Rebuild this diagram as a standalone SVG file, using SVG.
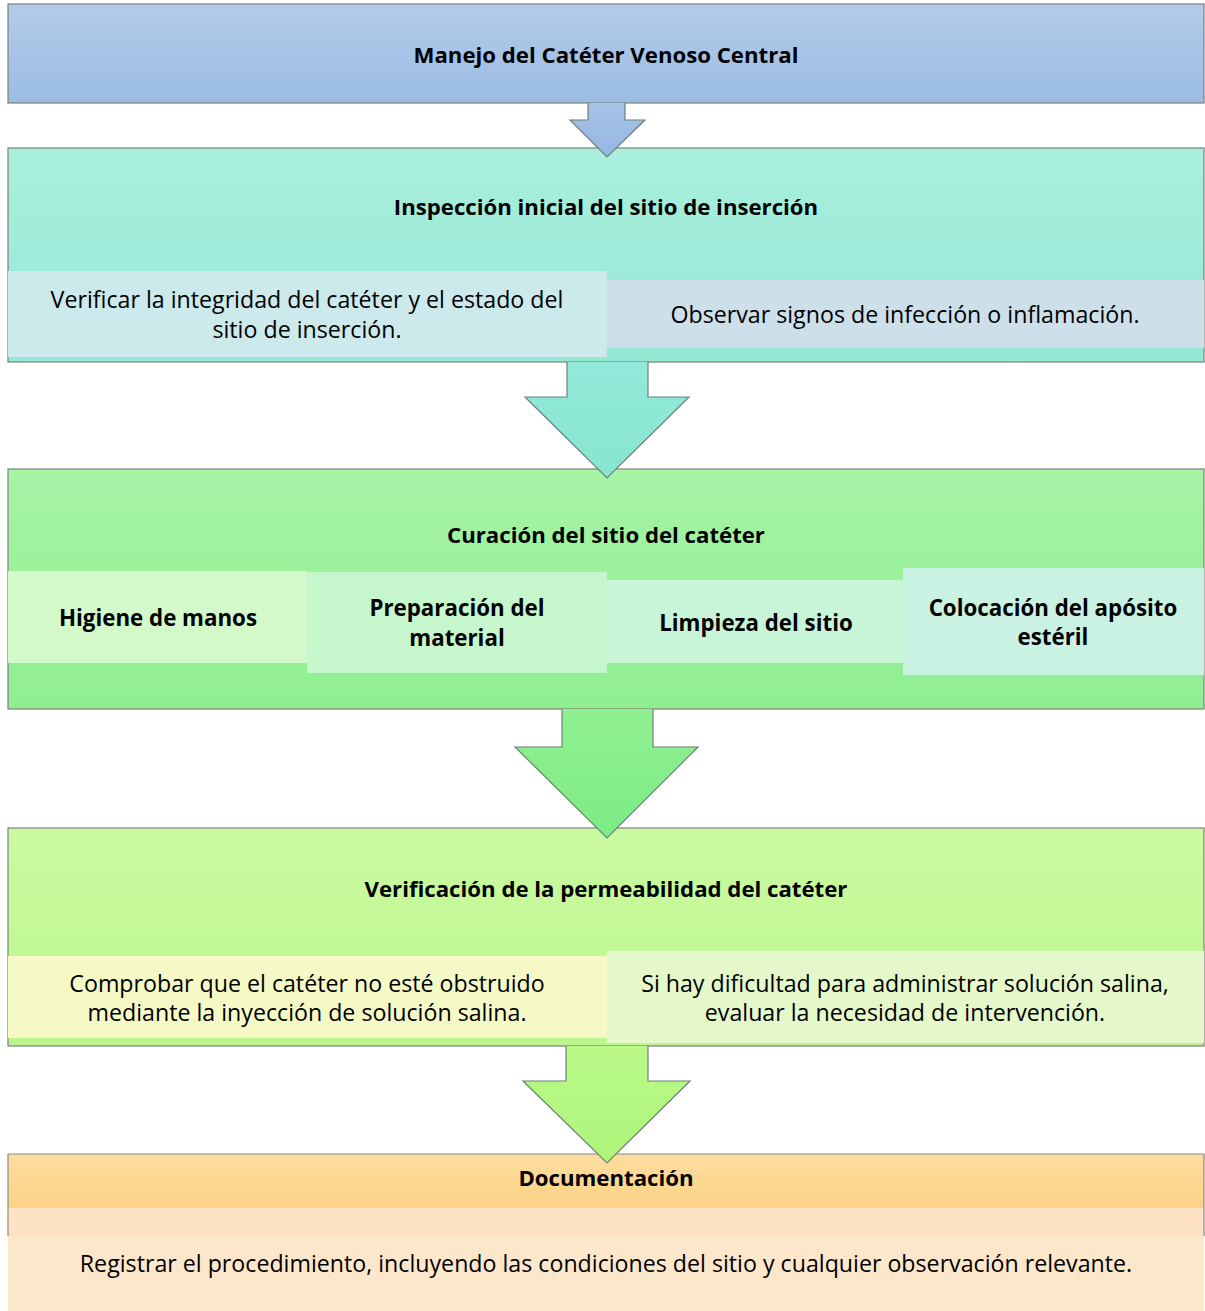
<svg xmlns="http://www.w3.org/2000/svg" width="1205" height="1311" viewBox="0 0 1205 1311">
<style>
  .box { stroke: #7f7f7f; stroke-width: 1.2; }
  .sub { stroke: none; }
  .arrow { stroke: #6f7f7a; stroke-width: 1.2; stroke-linejoin: miter; }
  text { font-family: "Open Sans", "Noto Sans", "DejaVu Sans", sans-serif; fill: #000; text-anchor: middle; dominant-baseline: central; }
  .t { font-size: 22.2px; font-weight: 700; }
  .b { font-size: 22.3px; font-weight: 700; }
  .r { font-size: 23.2px; }
</style>
<defs>
  <linearGradient id="g1" x1="0" y1="0" x2="0" y2="1"><stop offset="0" stop-color="#b2cce9"/><stop offset="1" stop-color="#9cbce3"/></linearGradient>
  <linearGradient id="g2" x1="0" y1="0" x2="0" y2="1"><stop offset="0" stop-color="#aaefdd"/><stop offset="1" stop-color="#93e8d4"/></linearGradient>
  <linearGradient id="g3" x1="0" y1="0" x2="0" y2="1"><stop offset="0" stop-color="#a6f4a6"/><stop offset="1" stop-color="#90ee90"/></linearGradient>
  <linearGradient id="g4" x1="0" y1="0" x2="0" y2="1"><stop offset="0" stop-color="#cafba0"/><stop offset="1" stop-color="#bcf58e"/></linearGradient>
  <linearGradient id="g5" x1="0" y1="0" x2="0" y2="1"><stop offset="0" stop-color="#fddd9e"/><stop offset="1" stop-color="#fcd286"/></linearGradient>
  <linearGradient id="a1" x1="0" y1="0" x2="0" y2="1"><stop offset="0" stop-color="#a6c3e7"/><stop offset="1" stop-color="#94b7e1"/></linearGradient>
  <linearGradient id="a2" x1="0" y1="0" x2="0" y2="1"><stop offset="0" stop-color="#93eada"/><stop offset="1" stop-color="#86e5cf"/></linearGradient>
  <linearGradient id="a3" x1="0" y1="0" x2="0" y2="1"><stop offset="0" stop-color="#90f090"/><stop offset="1" stop-color="#7cec84"/></linearGradient>
  <linearGradient id="a4" x1="0" y1="0" x2="0" y2="1"><stop offset="0" stop-color="#baf988"/><stop offset="1" stop-color="#aef57a"/></linearGradient>
</defs>
<rect width="1205" height="1311" fill="#ffffff"/>

<g id="node-manejo">
  <rect class="box" x="8" y="4" width="1196" height="99" fill="url(#g1)"/>
  <text class="t" x="606" y="54">Manejo del Catéter Venoso Central</text>
</g>

<g id="node-inspeccion">
  <rect class="box" x="8" y="148" width="1196" height="214" fill="url(#g2)"/>
  <text class="t" x="606" y="206">Inspección inicial del sitio de inserción</text>
  <g id="node-verificar-integridad">
    <rect class="sub" x="8" y="271" width="599" height="86" fill="#cce9ec"/>
    <text class="r" x="307" y="299">Verificar la integridad del catéter y el estado del</text>
    <text class="r" x="307" y="329">sitio de inserción.</text>
  </g>
  <g id="node-observar">
    <rect class="sub" x="607" y="280" width="597" height="68" fill="#cddfe9"/>
    <text class="r" x="905" y="314">Observar signos de infección o inflamación.</text>
  </g>
</g>

<g id="node-curacion">
  <rect class="box" x="8" y="469" width="1196" height="240" fill="url(#g3)"/>
  <text class="t" x="606" y="534">Curación del sitio del catéter</text>
  <g id="node-higiene">
    <rect class="sub" x="8" y="571" width="299" height="92" fill="#d3f8c9"/>
    <text class="b" x="158" y="617">Higiene de manos</text>
  </g>
  <g id="node-preparacion">
    <rect class="sub" x="307" y="572" width="300" height="101" fill="#c6f6cb"/>
    <text class="b" x="457" y="607">Preparación del</text>
    <text class="b" x="457" y="637">material</text>
  </g>
  <g id="node-limpieza">
    <rect class="sub" x="607" y="580" width="296" height="83" fill="#c8f5d7"/>
    <text class="b" x="756" y="622">Limpieza del sitio</text>
  </g>
  <g id="node-colocacion">
    <rect class="sub" x="903" y="568" width="301" height="107" fill="#c9f2e2"/>
    <text class="b" x="1053" y="607">Colocación del apósito</text>
    <text class="b" x="1053" y="636">estéril</text>
  </g>
</g>

<g id="node-verificacion">
  <rect class="box" x="8" y="828" width="1196" height="218" fill="url(#g4)"/>
  <text class="t" x="606" y="888">Verificación de la permeabilidad del catéter</text>
  <g id="node-comprobar">
    <rect class="sub" x="8" y="956" width="599" height="82" fill="#f5f9c6"/>
    <text class="r" x="307" y="983">Comprobar que el catéter no esté obstruido</text>
    <text class="r" x="307" y="1012">mediante la inyección de solución salina.</text>
  </g>
  <g id="node-dificultad">
    <rect class="sub" x="607" y="951" width="597" height="92" fill="#e5f8ca"/>
    <text class="r" x="905" y="983">Si hay dificultad para administrar solución salina,</text>
    <text class="r" x="905" y="1012">evaluar la necesidad de intervención.</text>
  </g>
</g>

<g id="node-documentacion">
  <rect x="8" y="1208" width="1196" height="28" fill="#fde3c3"/>
  <rect x="8" y="1154" width="1196" height="54" fill="url(#g5)"/>
  <path d="M8 1236 V1154 H1204 V1236" fill="none" stroke="#8a8a8a" stroke-width="1.2"/>
  <text class="t" x="606" y="1177">Documentación</text>
  <g id="node-registrar">
    <rect class="sub" x="8" y="1236" width="1196" height="75" fill="#fde7cb"/>
    <text class="r" x="606" y="1263">Registrar el procedimiento, incluyendo las condiciones del sitio y cualquier observación relevante.</text>
  </g>
</g>

<g id="connectors">
  <path class="arrow" d="M588 103 V120 H570 L607 157 L645 120 H625 V103" fill="url(#a1)"/>
  <path class="arrow" d="M567 362 V397 H525 L607 478 L689 397 H648 V362" fill="url(#a2)"/>
  <path class="arrow" d="M562 709 V747 H515 L607 838 L698 747 H653 V709" fill="url(#a3)"/>
  <path class="arrow" d="M566 1046 V1081 H523 L607 1163 L690 1081 H648 V1046" fill="url(#a4)"/>
</g>
</svg>
